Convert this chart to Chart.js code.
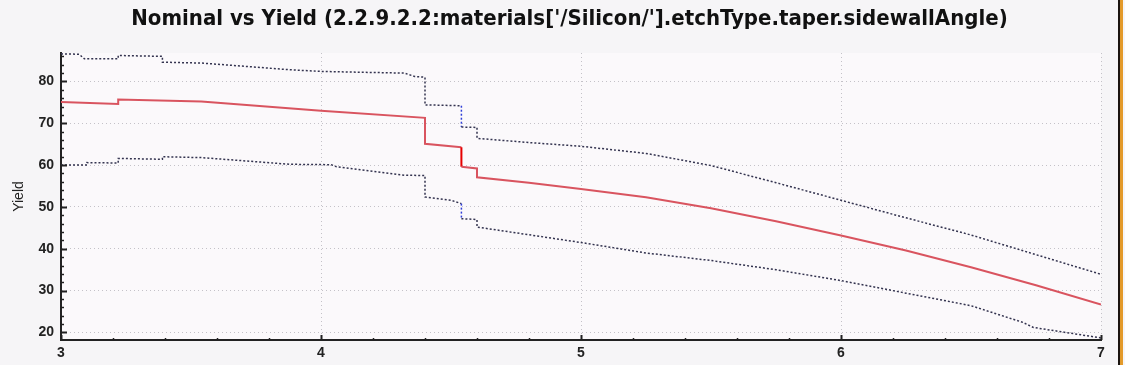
<!DOCTYPE html>
<html>
<head>
<meta charset="utf-8">
<title>Nominal vs Yield</title>
<script src="https://cdn.jsdelivr.net/npm/chart.js@4.4.1/dist/chart.umd.min.js"></script>
<style>
  html, body { margin: 0; padding: 0; background: #f6f5f7; overflow: hidden; }
  #wrap { position: relative; width: 1118px; height: 365px; }
  #edge1 { position: absolute; left: 1118px; top: 0; width: 2px; height: 365px; background: #1a1410; }
  #edge2 { position: absolute; left: 1120px; top: 0; width: 3px; height: 365px; background: #e39a2a; }
</style>
</head>
<body>
<div id="wrap"><canvas id="yieldChart" width="1118" height="365"></canvas></div>
<div id="edge1"></div>
<div id="edge2"></div>
<script>
// nominal curve
const nomX = [3.0, 3.22, 3.22, 3.54, 4.0, 4.4, 4.4, 4.54, 4.54, 4.6, 4.6, 4.8, 5.0, 5.25, 5.5, 5.75, 6.0, 6.25, 6.5, 6.75, 7.0];
const nomY = [75.1, 74.6, 75.7, 75.2, 73.0, 71.3, 65.1, 64.3, 59.6, 59.2, 57.1, 55.8, 54.3, 52.3, 49.7, 46.6, 43.2, 39.6, 35.6, 31.3, 26.7];

// upper bound
const upX = [3.0, 3.07, 3.09, 3.22, 3.22, 3.39, 3.39, 3.54, 3.88, 4.0, 4.15, 4.32, 4.36, 4.4, 4.4, 4.54, 4.54, 4.6, 4.6, 4.8, 5.0, 5.25, 5.5, 5.75, 6.0, 6.25, 6.5, 6.75, 7.0];
const upY = [86.6, 86.5, 85.4, 85.4, 86.2, 86.0, 84.6, 84.4, 82.8, 82.4, 82.2, 82.0, 81.2, 81.0, 74.4, 74.2, 69.1, 69.0, 66.4, 65.4, 64.5, 62.8, 59.9, 55.8, 51.6, 47.4, 43.3, 38.6, 33.9];

// lower bound
const loX = [3.0, 3.1, 3.1, 3.22, 3.22, 3.39, 3.39, 3.54, 3.88, 4.04, 4.06, 4.32, 4.4, 4.4, 4.5, 4.54, 4.54, 4.6, 4.6, 5.0, 5.25, 5.5, 5.75, 6.0, 6.25, 6.5, 6.7, 6.74, 7.0];
const loY = [60.0, 60.0, 60.6, 60.5, 61.6, 61.4, 62.0, 61.8, 60.2, 60.1, 59.6, 57.6, 57.5, 52.4, 51.6, 50.8, 47.2, 47.0, 45.2, 41.5, 39.0, 37.2, 35.0, 32.4, 29.4, 26.4, 22.4, 21.2, 18.7];

const xTicks = [3, 4, 5, 6, 7];
const yTicks = [20, 30, 40, 50, 60, 70, 80];

function toPoints(xs, ys) {
  return xs.map((x, i) => ({ x: x, y: ys[i] }));
}

// the step at 4.54 is drawn in a stronger colour
function stepColor(base, strong) {
  return (ctx) => (ctx.p0.parsed.x === 4.54 && ctx.p1.parsed.x === 4.54 ? strong : base);
}

const plotBg = {
  id: "plotBg",
  beforeDraw(chart) {
    const a = chart.chartArea;
    const c = chart.ctx;
    c.save();
    c.fillStyle = "#fbf9fb";
    c.fillRect(a.left, a.top, a.right - a.left, a.bottom - a.top);
    c.restore();
  },
};

// title sits a bit right of the canvas centre in the original
const titleShift = {
  id: "titleShift",
  afterLayout(chart) {
    const t = chart.titleBlock;
    if (t) {
      t.left += 19;
      t.right += 19;
    }
  },
};

// inward tick marks, major and minor
const innerTicks = {
  id: "innerTicks",
  afterDraw(chart) {
    const c = chart.ctx;
    const xs = chart.scales.x;
    const ys = chart.scales.y;
    const a = chart.chartArea;
    c.save();
    c.strokeStyle = "#222";
    for (let i = 10; i <= 43; i++) {
      const v = i * 2;
      const py = Math.round(ys.getPixelForValue(v)) + 0.5;
      const major = v % 10 === 0;
      c.lineWidth = major ? 2 : 1.5;
      c.beginPath();
      c.moveTo(a.left, py);
      c.lineTo(a.left + (major ? 6 : 3), py);
      c.stroke();
    }
    for (let i = 15; i <= 35; i++) {
      const v = i / 5;
      const px = Math.round(xs.getPixelForValue(v)) + 0.5;
      const major = i % 5 === 0;
      c.lineWidth = major ? 2 : 1.5;
      c.beginPath();
      c.moveTo(px, a.bottom);
      c.lineTo(px, a.bottom - (major ? 5 : 2));
      c.stroke();
    }
    c.restore();
  },
};

const ctx = document.getElementById("yieldChart").getContext("2d");
new Chart(ctx, {
  type: "line",
  data: {
    datasets: [
      {
        label: "Upper",
        data: toPoints(upX, upY),
        borderColor: "#33334f",
        borderWidth: 1.5,
        borderDash: [2, 2],
        pointRadius: 0,
        segment: { borderColor: stepColor("#33334f", "#2f3fd8") },
      },
      {
        label: "Lower",
        data: toPoints(loX, loY),
        borderColor: "#33334f",
        borderWidth: 1.5,
        borderDash: [2, 2],
        pointRadius: 0,
        segment: { borderColor: stepColor("#33334f", "#2f3fd8") },
      },
      {
        label: "Nominal",
        data: toPoints(nomX, nomY),
        borderColor: "#d9545f",
        borderWidth: 2,
        pointRadius: 0,
        segment: { borderColor: stepColor("#d9545f", "#e60000") },
      },
    ],
  },
  options: {
    responsive: false,
    animation: false,
    events: [],
    layout: { padding: { left: 0, right: 17, top: 0, bottom: 0 } },
    plugins: {
      legend: { display: false },
      tooltip: { enabled: false },
      title: {
        display: true,
        text: "Nominal vs Yield (2.2.9.2.2:materials['/Silicon/'].etchType.taper.sidewallAngle)",
        color: "#111",
        font: { family: "'DejaVu Sans Condensed', 'DejaVu Sans'", size: 22, weight: "bold" },
        padding: { top: 6, bottom: 20.6 },
      },
    },
    scales: {
      x: {
        type: "linear",
        min: 3,
        max: 7,
        afterFit: (s) => { s.height = 25; },
        afterBuildTicks: (s) => { s.ticks = xTicks.map((v) => ({ value: v })); },
        ticks: {
          color: "#222",
          padding: 5,
          font: { family: "'Liberation Sans', Arial", size: 14, weight: "bold" },
        },
        grid: { color: "#c4c2c8", lineWidth: 1, drawTicks: false },
        border: { display: true, color: "#222", width: 2, dash: [1, 3] },
      },
      y: {
        min: 18.2,
        max: 86.8,
        afterFit: (s) => { s.width = 61; },
        afterBuildTicks: (s) => { s.ticks = yTicks.map((v) => ({ value: v })); },
        ticks: {
          color: "#222",
          padding: 7,
          font: { family: "'Liberation Sans', Arial", size: 14, weight: "bold" },
        },
        grid: { color: "#c4c2c8", lineWidth: 1, drawTicks: false },
        border: { display: true, color: "#222", width: 2, dash: [1, 3] },
        title: {
          display: true,
          text: "Yield",
          color: "#222",
          font: { family: "'Liberation Sans', Arial", size: 14 },
          padding: { top: 11, bottom: 0 },
        },
      },
    },
  },
  plugins: [plotBg, titleShift, innerTicks],
});
</script>
</body>
</html>
